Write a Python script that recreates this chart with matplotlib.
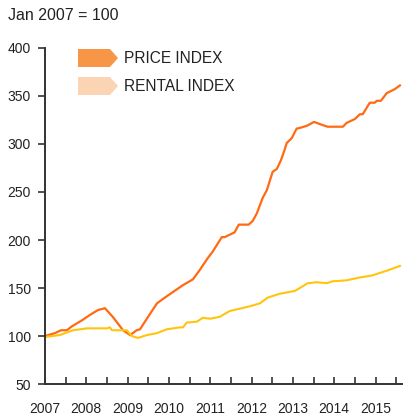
import matplotlib
matplotlib.use('Agg')
import matplotlib.pyplot as plt
from matplotlib.patches import Polygon
from matplotlib.ticker import MultipleLocator

plt.rcParams['font.family'] = ['Liberation Sans', 'DejaVu Sans']

# price index (Jan 2007 = 100)
price_t = [2007.0, 2007.24, 2007.39, 2007.53, 2007.65, 2007.92, 2008.09, 2008.28, 2008.45,
           2008.64, 2008.89, 2009.06, 2009.22, 2009.30, 2009.42, 2009.71, 2009.90, 2010.07,
           2010.34, 2010.58, 2010.75, 2010.92, 2011.06, 2011.28, 2011.35, 2011.59, 2011.69,
           2011.93, 2012.03, 2012.13, 2012.27, 2012.37, 2012.51, 2012.61, 2012.71, 2012.80,
           2012.85, 2012.97, 2013.09, 2013.19, 2013.34, 2013.51, 2013.70, 2013.84, 2014.21,
           2014.30, 2014.50, 2014.62, 2014.69, 2014.86, 2014.98, 2015.03, 2015.13, 2015.27,
           2015.46, 2015.59]
price_v = [100, 103, 106, 106, 110, 117, 122, 127, 129,
           120, 106, 101, 106, 107, 115, 134, 140, 145,
           153, 159, 169, 180, 188, 203, 203, 208, 216,
           216, 220, 228, 244, 252, 271, 274, 283, 294,
           301, 306, 316, 317, 319, 323, 320, 318, 318,
           322, 326, 331, 331, 343, 343, 345, 345, 353,
           357, 361]

# rental index
rent_t = [2007.0, 2007.36, 2007.68, 2008.02, 2008.50, 2008.57, 2008.62, 2008.98, 2009.10,
          2009.25, 2009.47, 2009.71, 2009.95, 2010.26, 2010.34, 2010.43, 2010.68, 2010.82,
          2010.99, 2011.23, 2011.47, 2011.96, 2012.20, 2012.39, 2012.68, 2013.05, 2013.36,
          2013.58, 2013.82, 2013.96, 2014.30, 2014.62, 2014.91, 2015.27, 2015.59]
rent_v = [99, 101, 106, 108, 108, 109, 106, 106, 100,
          98, 101, 103, 107, 109, 109, 114, 115, 119,
          118, 120, 126, 131, 134, 140, 144, 147, 155,
          156, 155, 157, 158, 161, 163, 168, 173]

years = [2007, 2008, 2009, 2010, 2011, 2012, 2013, 2014, 2015]
series_names = ['PRICE INDEX', 'RENTAL INDEX']

fig = plt.figure(figsize=(4.05, 4.18), dpi=100)
ax = fig.add_axes([0.111, 0.0813, 0.8816, 0.8039])

ax.plot(price_t, price_v, color='#FF6A13', lw=1.6)
ax.plot(rent_t, rent_v, color='#FFC40C', lw=1.5)

ax.set_xlim(2007, 2015.64)
ax.set_ylim(50, 400)
ax.set_yticks(range(50, 401, 50))
ax.set_xticks(years)
ax.set_xticklabels([str(y) for y in years])
ax.xaxis.set_minor_locator(MultipleLocator(0.5))

for s in ['top', 'right']:
    ax.spines[s].set_visible(False)
for s in ['left', 'bottom']:
    ax.spines[s].set_color('#333333')
    ax.spines[s].set_linewidth(1.4)

ax.tick_params(axis='y', direction='out', length=5, width=1.2, color='#333333',
               labelsize=10, pad=5, labelcolor='#222222')
ax.tick_params(axis='x', which='both', direction='in', length=5, width=1.2,
               color='#333333', labelsize=10, pad=13, labelcolor='#222222')

# legend drawn as arrow-shaped swatches
legend_colors = ['#F79646', '#FBD4B4']
for i, (name, col) in enumerate(zip(series_names, legend_colors)):
    y0 = 49 + i * 28
    pts = [(78, y0), (110, y0), (118, y0 + 9), (110, y0 + 18), (78, y0 + 18)]
    pts = [(px / 405, 1 - py / 418) for px, py in pts]
    fig.patches.append(Polygon(pts, closed=True, facecolor=col, edgecolor='none',
                               transform=fig.transFigure))
    fig.text(124 / 405, 1 - (y0 + 9.5) / 418, name, fontsize=11.2, va='center',
             ha='left', color='#222222')

fig.text(8 / 405, 1 - 16 / 418, 'Jan 2007 = 100', fontsize=11.5, va='center',
         ha='left', color='#222222')

fig.savefig('out.png', dpi=100)
